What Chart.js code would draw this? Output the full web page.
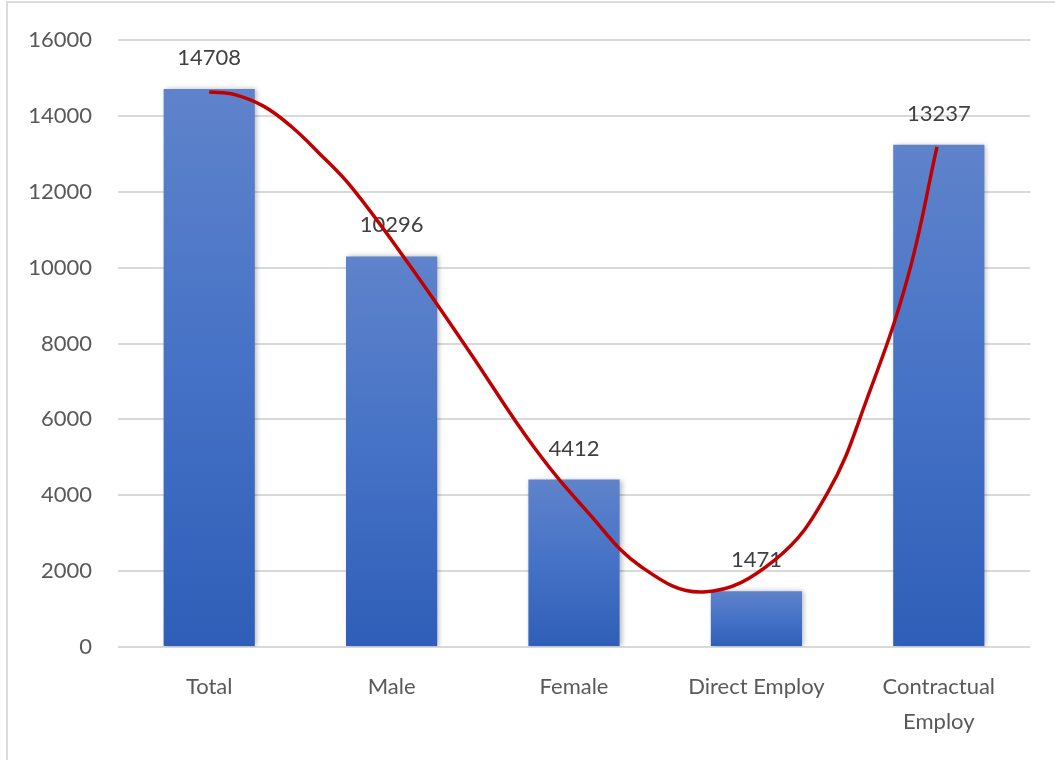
<!DOCTYPE html>
<html lang="en">

<head>
    <meta charset="UTF-8">
    <title>Employment</title>
    <style>
        html, body { margin: 0; padding: 0; background: #fff; }
        .frame {
            position: absolute; left: 6px; top: 1px; width: 1049px; height: 759px;
            border-left: 2px solid #dcdcdc; border-top: 2px solid #dcdcdc;
            box-sizing: border-box;
        }
        .wrap { position: absolute; left: 0; top: 0; width: 1055px; height: 760px; }
    </style>
</head>

<body>
    <div class="frame"></div>
    <div class="wrap"><canvas id="myChart"></canvas></div>

    <script src="https://cdn.jsdelivr.net/npm/chart.js@4.4.0/dist/chart.umd.min.js"></script>
    <script>
        var categories = ['Total', 'Male', 'Female', 'Direct Employ', ['Contractual', 'Employ']]
        var counts = [14708, 10296, 4412, 1471, 13237]
        var yTicks = [0, 2000, 4000, 6000, 8000, 10000, 12000, 14000, 16000]

        // red trend curve, positions in category units (0 = Total ... 4 = Contractual)
        var trendX = [0, 0.14, 0.3, 0.45, 0.6, 0.78, 1.09, 1.42, 1.78, 2.08, 2.37, 2.71, 3.1, 3.39, 3.61, 3.83, 3.99]
        var trendY = [14630, 14560, 14250, 13720, 13030, 12120, 10120, 7830, 5270, 3530, 2110, 1450, 2290, 4060, 6590, 9750, 13180]

        var fontFamily = 'Lato, "Open Sans", sans-serif'

        function barGradient(context) {
            var chart = context.chart
            var yScale = chart.scales.y
            if (!yScale || !context.parsed) return '#4472c4'
            var top = yScale.getPixelForValue(context.parsed.y)
            var bottom = yScale.getPixelForValue(0)
            if (!isFinite(top) || !isFinite(bottom)) return '#4472c4'
            var g = chart.ctx.createLinearGradient(0, top, 0, bottom)
            g.addColorStop(0, '#5f83cb')
            g.addColorStop(0.5, '#4572c6')
            g.addColorStop(1, '#2f5eb8')
            return g
        }

        // value labels above the bars, drawn before the curve so it passes over them
        var valueLabels = {
            id: 'valueLabels',
            beforeDatasetDraw: function (chart, args) {
                if (args.index === 0) {
                    var ctx = chart.ctx
                    ctx.save()
                    ctx.shadowColor = 'rgba(0,0,0,0.28)'
                    ctx.shadowBlur = 5
                    ctx.shadowOffsetX = 2
                    ctx.shadowOffsetY = 0
                }
            },
            afterDatasetDraw: function (chart, args) {
                if (args.index !== 0) return
                var ctx = chart.ctx
                ctx.restore()
                ctx.save()
                ctx.font = '22px ' + fontFamily
                ctx.fillStyle = '#404040'
                ctx.textAlign = 'center'
                ctx.textBaseline = 'middle'
                args.meta.data.forEach(function (bar, i) {
                    ctx.fillText(String(counts[i]), bar.x, bar.y - 31)
                })
                ctx.restore()
            }
        }

        var ctx = document.getElementById('myChart')
        var myChart = new Chart(ctx, {
            type: 'bar',
            data: {
                labels: categories,
                datasets: [{
                    type: 'bar',
                    data: counts,
                    backgroundColor: barGradient,
                    borderWidth: 0,
                    grouped: false,
                    categoryPercentage: 1,
                    barPercentage: 0.5,
                    order: 1
                }, {
                    type: 'line',
                    data: trendX.map(function (x, i) { return { x: x, y: trendY[i] } }),
                    xAxisID: 'xl',
                    borderColor: '#c00000',
                    borderWidth: 3.5,
                    pointRadius: 0,
                    fill: false,
                    tension: 0.4,
                    order: 0
                }]
            },
            options: {
                responsive: true,
                maintainAspectRatio: false,
                animation: false,
                layout: { padding: { top: 40, right: 25, left: 0, bottom: 0 } },
                plugins: {
                    legend: { display: false },
                    tooltip: { enabled: false }
                },
                scales: {
                    x: {
                        grid: { display: false, drawTicks: false },
                        border: { display: false },
                        ticks: {
                            color: '#595959',
                            font: { family: fontFamily, size: 22, lineHeight: 1.6 },
                            padding: 22,
                            maxRotation: 0
                        },
                        afterFit: function (scale) { scale.height = 113 }
                    },
                    xl: {
                        type: 'linear',
                        display: false,
                        offset: false,
                        min: -0.5,
                        max: 4.5
                    },
                    y: {
                        min: 0,
                        max: 16000,
                        afterBuildTicks: function (scale) {
                            scale.ticks = yTicks.map(function (v) { return { value: v } })
                        },
                        grid: { color: '#d9d9d9', lineWidth: 2, drawTicks: false },
                        border: { display: false },
                        ticks: {
                            color: '#595959',
                            font: { family: fontFamily, size: 22 },
                            padding: 26,
                            callback: function (v) { return String(v) }
                        },
                        afterFit: function (scale) { scale.width = 118 }
                    }
                }
            },
            plugins: [valueLabels]
        })
    </script>
</body>

</html>
